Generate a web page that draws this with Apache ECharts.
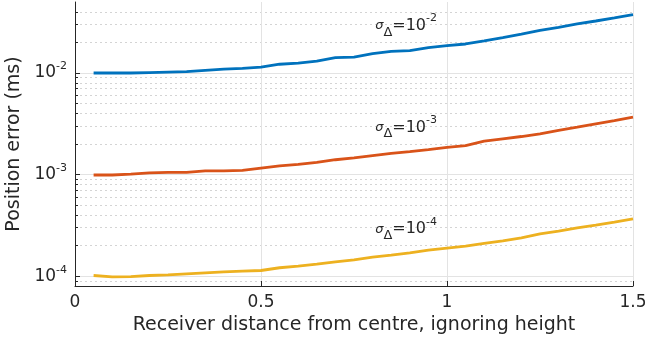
<!DOCTYPE html>
<html>
<head>
<meta charset="utf-8">
<script src="https://cdn.jsdelivr.net/npm/echarts@6/dist/echarts.min.js"></script>
<style>
  html, body { margin: 0; padding: 0; background: #ffffff; }
  #chart { width: 645px; height: 344px; }
</style>
</head>
<body>
<div id="chart"></div>
<script>
// Receiver distance from centre (ignoring height)
const distance = [0.05, 0.10, 0.15, 0.20, 0.25, 0.30, 0.35, 0.40, 0.45, 0.50,
                  0.55, 0.60, 0.65, 0.70, 0.75, 0.80, 0.85, 0.90, 0.95, 1.00,
                  1.05, 1.10, 1.15, 1.20, 1.25, 1.30, 1.35, 1.40, 1.45, 1.50];

// Position error (ms) for sigma_Delta = 1e-2
const errSigma2 = [0.0100, 0.0100, 0.0100, 0.0101, 0.0102, 0.0103, 0.0106, 0.0109, 0.0111, 0.0114,
                   0.0122, 0.0125, 0.0131, 0.0142, 0.0143, 0.0155, 0.0163, 0.0166, 0.0178, 0.0186,
                   0.0193, 0.0207, 0.0223, 0.0242, 0.0263, 0.0282, 0.0304, 0.0325, 0.0348, 0.0376];

// Position error (ms) for sigma_Delta = 1e-3
const errSigma3 = [0.00099, 0.00099, 0.00101, 0.00104, 0.00105, 0.00105, 0.00109, 0.00109, 0.00110, 0.00116,
                   0.00122, 0.00126, 0.00132, 0.00140, 0.00146, 0.00154, 0.00162, 0.00168, 0.00176, 0.00185,
                   0.00193, 0.00213, 0.00225, 0.00237, 0.00252, 0.00273, 0.00293, 0.00316, 0.00340, 0.00367];

// Position error (ms) for sigma_Delta = 1e-4
const errSigma4 = [1.015e-4, 0.985e-4, 0.990e-4, 1.015e-4, 1.030e-4, 1.054e-4, 1.078e-4, 1.100e-4, 1.120e-4, 1.137e-4,
                   1.210e-4, 1.255e-4, 1.313e-4, 1.384e-4, 1.448e-4, 1.539e-4, 1.611e-4, 1.698e-4, 1.800e-4, 1.888e-4,
                   1.975e-4, 2.100e-4, 2.228e-4, 2.386e-4, 2.614e-4, 2.778e-4, 2.993e-4, 3.178e-4, 3.400e-4, 3.670e-4];

// Curve annotations: sigma exponent and where the text sits
const sigmaExponents = [-2, -3, -4];
const labelAnchorX = 0.89;
const labelAnchorY = [2.9e-2, 2.9e-3, 2.9e-4];

// Axis ticks
const xTicks = [0, 0.5, 1, 1.5];
const yMajorTicks = [1e-4, 1e-3, 1e-2];
const yMinorTicks = [9e-5,
                     2e-4, 3e-4, 4e-4, 5e-4, 6e-4, 7e-4, 8e-4, 9e-4,
                     2e-3, 3e-3, 4e-3, 5e-3, 6e-3, 7e-3, 8e-3, 9e-3,
                     2e-2, 3e-2, 4e-2];

const FONT = '"DejaVu Sans", sans-serif';
const INK = '#262626';
const COLORS = ['#0072BD', '#D95319', '#EDB120'];

function pairs(ys) { return distance.map((x, i) => [x, ys[i]]); }

function sigmaLabel(exp) {
  return '{s|σ}{d|Δ}{t|=10}{p|' + exp + '}';
}

const labelRich = {
  s: { fontFamily: FONT, fontSize: 13, fontStyle: 'italic', color: INK, lineHeight: 26, verticalAlign: 'middle' },
  d: { fontFamily: FONT, fontSize: 13, color: INK, lineHeight: 26, verticalAlign: 'bottom' },
  t: { fontFamily: FONT, fontSize: 16, color: INK, lineHeight: 26, verticalAlign: 'middle' },
  p: { fontFamily: FONT, fontSize: 11, color: INK, lineHeight: 26, verticalAlign: 'top' }
};

function makeSeries(name, ys, idx) {
  return {
    name: name,
    type: 'line',
    data: pairs(ys),
    showSymbol: false,
    symbol: 'none',
    lineStyle: { color: COLORS[idx], width: 2.8 },
    itemStyle: { color: COLORS[idx] },
    z: 5,
    markPoint: {
      silent: true,
      symbol: 'circle',
      symbolSize: 1,
      itemStyle: { color: 'rgba(0,0,0,0)' },
      label: {
        show: true,
        position: 'inside',
        formatter: sigmaLabel(sigmaExponents[idx]),
        rich: labelRich
      },
      data: [{ coord: [labelAnchorX, labelAnchorY[idx]] }]
    }
  };
}

const chart = echarts.init(document.getElementById('chart'), null, { renderer: 'canvas' });

chart.setOption({
  animation: false,
  backgroundColor: '#ffffff',
  grid: { left: 75, right: 12, top: 2, bottom: 58, containLabel: false, outerBoundsMode: 'none' },
  xAxis: {
    type: 'value',
    min: 0,
    max: 1.5,
    interval: 0.5,
    name: 'Receiver distance from centre, ignoring height',
    nameLocation: 'middle',
    nameGap: 30,
    nameTextStyle: { fontFamily: FONT, fontSize: 19, color: INK },
    axisLine: { show: true, onZero: false, lineStyle: { color: INK, width: 1 } },
    axisTick: { show: true, inside: true, length: 5, lineStyle: { color: INK } },
    axisLabel: {
      show: true, margin: 8, fontFamily: FONT, fontSize: 17, color: INK,
      customValues: xTicks,
      formatter: v => String(v)
    },
    splitLine: { show: true, lineStyle: { color: '#e3e3e3', width: 1 } }
  },
  yAxis: [
    {
      type: 'log',
      logBase: 10,
      min: 8e-5,
      max: 0.05,
      position: 'left',
      name: 'Position error (ms)',
      nameLocation: 'middle',
      nameRotate: 90,
      nameGap: 46,
      nameTextStyle: { fontFamily: FONT, fontSize: 19, color: INK },
      axisLine: { show: true, lineStyle: { color: INK, width: 1 } },
      axisTick: { show: true, inside: true, length: 5, lineStyle: { color: INK }, customValues: yMajorTicks },
      axisLabel: {
        show: true, margin: 8, color: INK,
        customValues: yMajorTicks,
        formatter: v => '{b|10}{p|' + Math.round(Math.log10(v)) + '}',
        rich: {
          b: { fontFamily: FONT, fontSize: 17, color: INK, lineHeight: 24, verticalAlign: 'middle' },
          p: { fontFamily: FONT, fontSize: 11, color: INK, lineHeight: 24, verticalAlign: 'top' }
        }
      },
      splitLine: { show: true, lineStyle: { color: '#e3e3e3', width: 1 } },
      minorTick: { show: false },
      minorSplitLine: { show: false }
    },
    {
      // Minor decade subdivisions: short ticks and dotted grid
      type: 'log',
      logBase: 10,
      min: 8e-5,
      max: 0.05,
      position: 'left',
      axisLine: { show: false },
      axisTick: { show: true, inside: true, length: 3, lineStyle: { color: INK }, customValues: yMinorTicks },
      axisLabel: { show: false, customValues: yMinorTicks },
      splitLine: { show: true, lineStyle: { color: '#d4d4d4', width: 1, type: [2, 3] } }
    }
  ],
  series: [
    makeSeries('σΔ = 1e-2', errSigma2, 0),
    makeSeries('σΔ = 1e-3', errSigma3, 1),
    makeSeries('σΔ = 1e-4', errSigma4, 2)
  ]
});
</script>
</body>
</html>
